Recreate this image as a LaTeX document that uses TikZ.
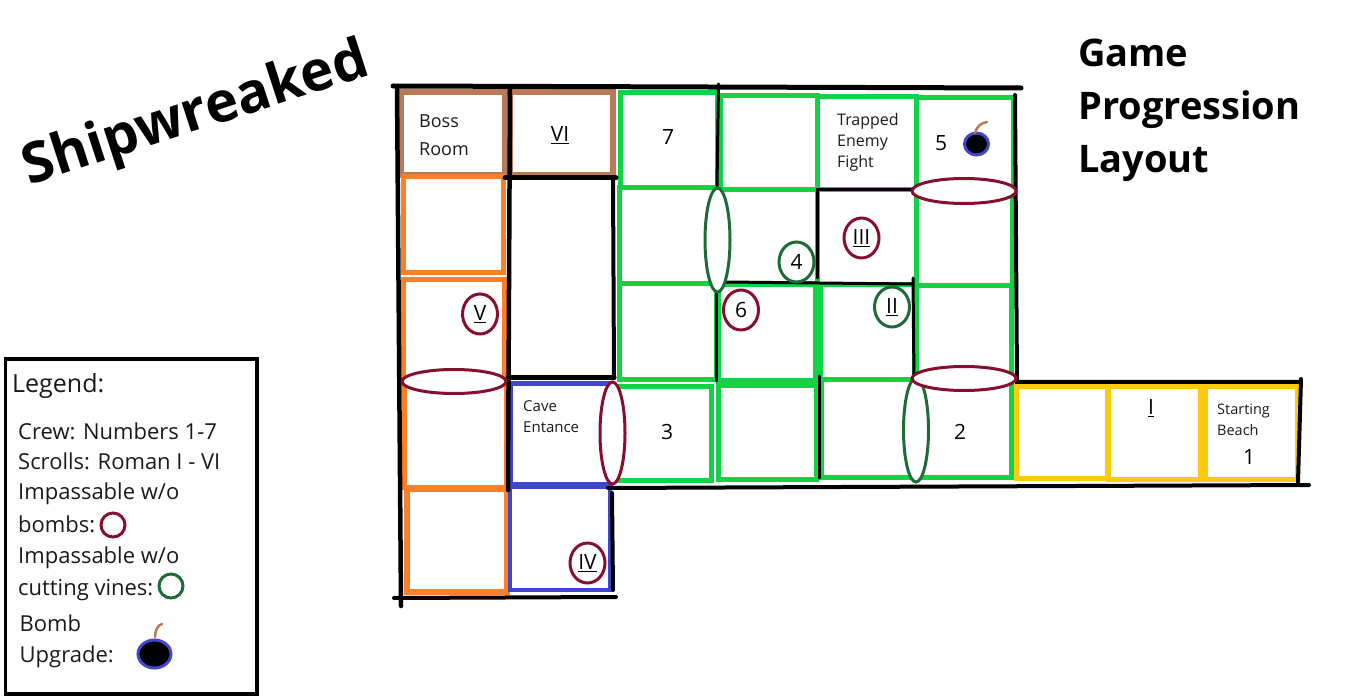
\documentclass[tikz,border=0pt]{standalone}
\usepackage{fontspec}
\setmainfont{Open Sans}
\usetikzlibrary{shapes}

\definecolor{roomgreen}{HTML}{12D344}
\definecolor{roomorange}{HTML}{FF7F27}
\definecolor{roomblue}{HTML}{3F48CC}
\definecolor{roombrown}{HTML}{B97A57}
\definecolor{roomyellow}{HTML}{FFC90E}
\definecolor{bombred}{HTML}{880E2D}
\definecolor{vinegreen}{HTML}{1E6B36}
\definecolor{inkblack}{HTML}{1A1A1A}

\tikzset{
  wall/.style={draw=black, line width=4pt, line cap=round},
  thinwall/.style={draw=black, line width=3pt, line cap=round},
  green room/.style={draw=roomgreen, line width=5pt},
  orange room/.style={draw=roomorange, line width=5pt},
  blue room/.style={draw=roomblue, line width=4pt},
  brown room/.style={draw=roombrown, line width=6pt},
  yellow room/.style={draw=roomyellow, line width=5pt},
  door/.style={ellipse, fill=white, line width=3pt, inner sep=0pt},
  item/.style={ellipse, line width=3pt, inner sep=0pt, text=black,
               minimum width=35pt, minimum height=40pt,
               font=\fontsize{21}{24}\selectfont},
  bomb door/.style={door, draw=bombred},
  vine door/.style={door, draw=vinegreen},
  bomb item/.style={item, draw=bombred},
  vine item/.style={item, draw=vinegreen},
  bomb/.style={ellipse, draw=roomblue, fill=black, line width=3pt, inner sep=0pt},
  fuse/.style={draw=roombrown, line width=2.5pt, line cap=round},
  big/.style={font=\fontsize{21}{24}\selectfont, text=black, inner sep=0pt},
  note/.style={font=\fontsize{15}{21}\selectfont, text=inkblack, inner sep=0pt,
               anchor=west, align=left},
  legend/.style={font=\fontsize{22}{26}\selectfont, text=inkblack, inner sep=0pt,
                 anchor=base west},
  heading/.style={font=\fontsize{38}{53}\selectfont\bfseries, text=black,
                  inner sep=0pt, anchor=west, align=left},
}

\begin{document}
\begin{tikzpicture}[x=1pt, y=-1pt]
  \useasboundingbox (0,0) rectangle (1350,700);

  % rooms on the left
  \draw[brown room] (401,92.5) rectangle (505,175);
  \draw[brown room] (510,92.5) rectangle (612.5,175);
  \draw[orange room] (403,177) rectangle (503,273);
  \draw[orange room] (403,280) rectangle (504,380);
  \draw[orange room] (404,380) rectangle (506,488);
  \draw[orange room, line width=6pt] (407,488.5) rectangle (507,592);
  \draw[blue room, line width=5pt] (510,384) rectangle (610,485);
  \draw[blue room] (510,487) rectangle (610,589.5);

  % green rooms
  \draw[green room] (620,92.5) rectangle (717,188);
  \draw[green room] (619,188) rectangle (717,284);
  \draw[green room] (619,284) rectangle (716,380);
  \draw[green room] (614,386.5) rectangle (711.5,481);
  \draw[green room] (720,96) rectangle (817.5,189.5);
  \draw[green room] (817.5,97) rectangle (916,190);
  \draw[green room] (916,98) rectangle (1013,190);
  \draw[green room] (720,190) rectangle (817,284);
  \draw[green room] (817,190) rectangle (916,285);
  \draw[green room] (916,190) rectangle (1012,286);
  \draw[green room] (718,285) rectangle (815,381);
  \draw[green room] (820,285) rectangle (914,380);
  \draw[green room] (916,286) rectangle (1011,378);
  \draw[green room] (718.5,386) rectangle (816,480);
  \draw[green room] (821,380) rectangle (916,478);
  \draw[green room] (916,380) rectangle (1011,478);

  % beach
  \draw[yellow room] (1016,387) rectangle (1107,479);
  \draw[yellow room] (1108,387) rectangle (1200,480);
  \draw[yellow room] (1205,387) rectangle (1297,480);

  % walls
  \draw[wall, line width=5pt] (393,86) -- (1021,88);
  \draw[wall, line width=4.5pt] (397,86) -- (401,606);
  \draw[wall, line width=4.5pt] (510,87) -- (508,490);
  \draw[wall, line width=5pt] (505,178) -- (616,178);
  \draw[wall] (613,178) -- (614,378);
  \draw[wall, line width=5pt] (508,378) -- (614,378);
  \draw[thinwall] (718.5,84) -- (717,186);
  \draw[thinwall] (716,290) -- (716,381);
  \draw[thinwall] (725,282) -- (913,284);
  \draw[thinwall] (817,278) -- (817,190) -- (913,190);
  \draw[thinwall] (913,278) -- (914,380);
  \draw[wall] (1015,95) -- (1017,382) -- (1300,382);
  \draw[wall] (1301,379) -- (1298,482);
  \draw[wall] (608,488) -- (1309,485);
  \draw[thinwall] (819,376) -- (819,478);
  \draw[wall] (612,493) -- (613,590);
  \draw[wall] (394,598) -- (616,597);

  % blocked ways
  \node[vine door, minimum width=25pt, minimum height=104pt] (vineA) at (717.5,240) {};
  \node[vine door, minimum width=25pt, minimum height=104pt] (vineB) at (916,430) {};
  \node[bomb door, minimum width=104pt, minimum height=24pt] (blastA) at (454,381.5) {};
  \node[bomb door, minimum width=25pt, minimum height=102pt] (blastB) at (612.5,433) {};
  \node[bomb door, minimum width=104pt, minimum height=25pt] (blastC) at (964,191) {};
  \node[bomb door, minimum width=104pt, minimum height=24pt] (blastD) at (964,378.5) {};

  % scrolls and crew in circles
  \node[bomb item] (scrollV) at (480,314) {\underline{V}};
  \node[bomb item] (scrollIV) at (587.5,563) {\underline{IV}};
  \node[bomb item] (scrollIII) at (861.5,238) {\underline{III}};
  \node[vine item] (scrollII) at (892,307) {\underline{II}};
  \node[vine item] (crewD) at (796.5,262) {4};
  \node[bomb item] (crewF) at (741,310) {6};

  % room texts
  \node[note, font=\fontsize{18}{28}\selectfont] (boss) at (419,135) {Boss\\Room};
  \node[big] (scrollVI) at (560,135) {\underline{VI}};
  \node[big] (crewG) at (668,137) {7};
  \node[note, font=\fontsize{16}{21}\selectfont] (trapped) at (837,142.5) {Trapped\\Enemy\\Fight};
  \node[big] (crewE) at (941,143) {5};
  \node[note] (cave) at (523,417) {Cave\\Entance};
  \node[big] (crewC) at (667,432) {3};
  \node[big] (crewB) at (960,432) {2};
  \node[big] (scrollI) at (1151,408) {\underline{I}};
  \node[note, font=\fontsize{14.5}{21}\selectfont] (beach) at (1217,420) {Starting\\Beach};
  \node[big] (crewA) at (1249,457) {1};

  % bomb in the room
  \node[bomb, minimum width=24pt, minimum height=22pt] (bombA) at (976.5,144) {};
  \draw[fuse] (975,133) .. controls (977,126) and (981,123) .. (987,122);

  % titles
  \node[font=\fontsize{56}{62}\selectfont\bfseries, text=black, rotate=18, inner sep=0pt] (title) at (196,116) {Shipwreaked};
  \node[heading] (layout) at (1078,110.5) {Game\\Progression\\Layout};

  % legend
  \node[draw=black, line width=3.5pt, minimum width=251.5pt, minimum height=335pt, inner sep=0pt] (legendbox) at (131,526.5) {};
  \node[legend, font=\fontsize{25}{29}\selectfont] (legendhead) at (12,392.5) {Legend:};
  \node[legend] (crewline) at (18,440) {Crew: Numbers 1-7};
  \node[legend] (scrollline) at (18,470) {Scrolls: Roman I - VI};
  \node[legend] (bombline) at (18,500) {Impassable w/o};
  \node[legend] (bombword) at (18,532) {bombs:};
  \node[legend] (vineline) at (18,563) {Impassable w/o};
  \node[legend] (vineword) at (18,595) {cutting vines:};
  \node[legend] (upgradeA) at (19.5,631) {Bomb};
  \node[legend] (upgradeB) at (19.5,662) {Upgrade:};
  \node[draw=bombred, circle, line width=3pt, minimum size=24pt, inner sep=0pt] (bombkey) at (113,525) {};
  \node[draw=vinegreen, circle, line width=3pt, minimum size=24pt, inner sep=0pt] (vinekey) at (171,586) {};
  \node[bomb, minimum width=33pt, minimum height=28pt] (bombB) at (154.5,654) {};
  \draw[fuse] (155,637) .. controls (155,630) and (158,625) .. (162,624);
\end{tikzpicture}
\end{document}
